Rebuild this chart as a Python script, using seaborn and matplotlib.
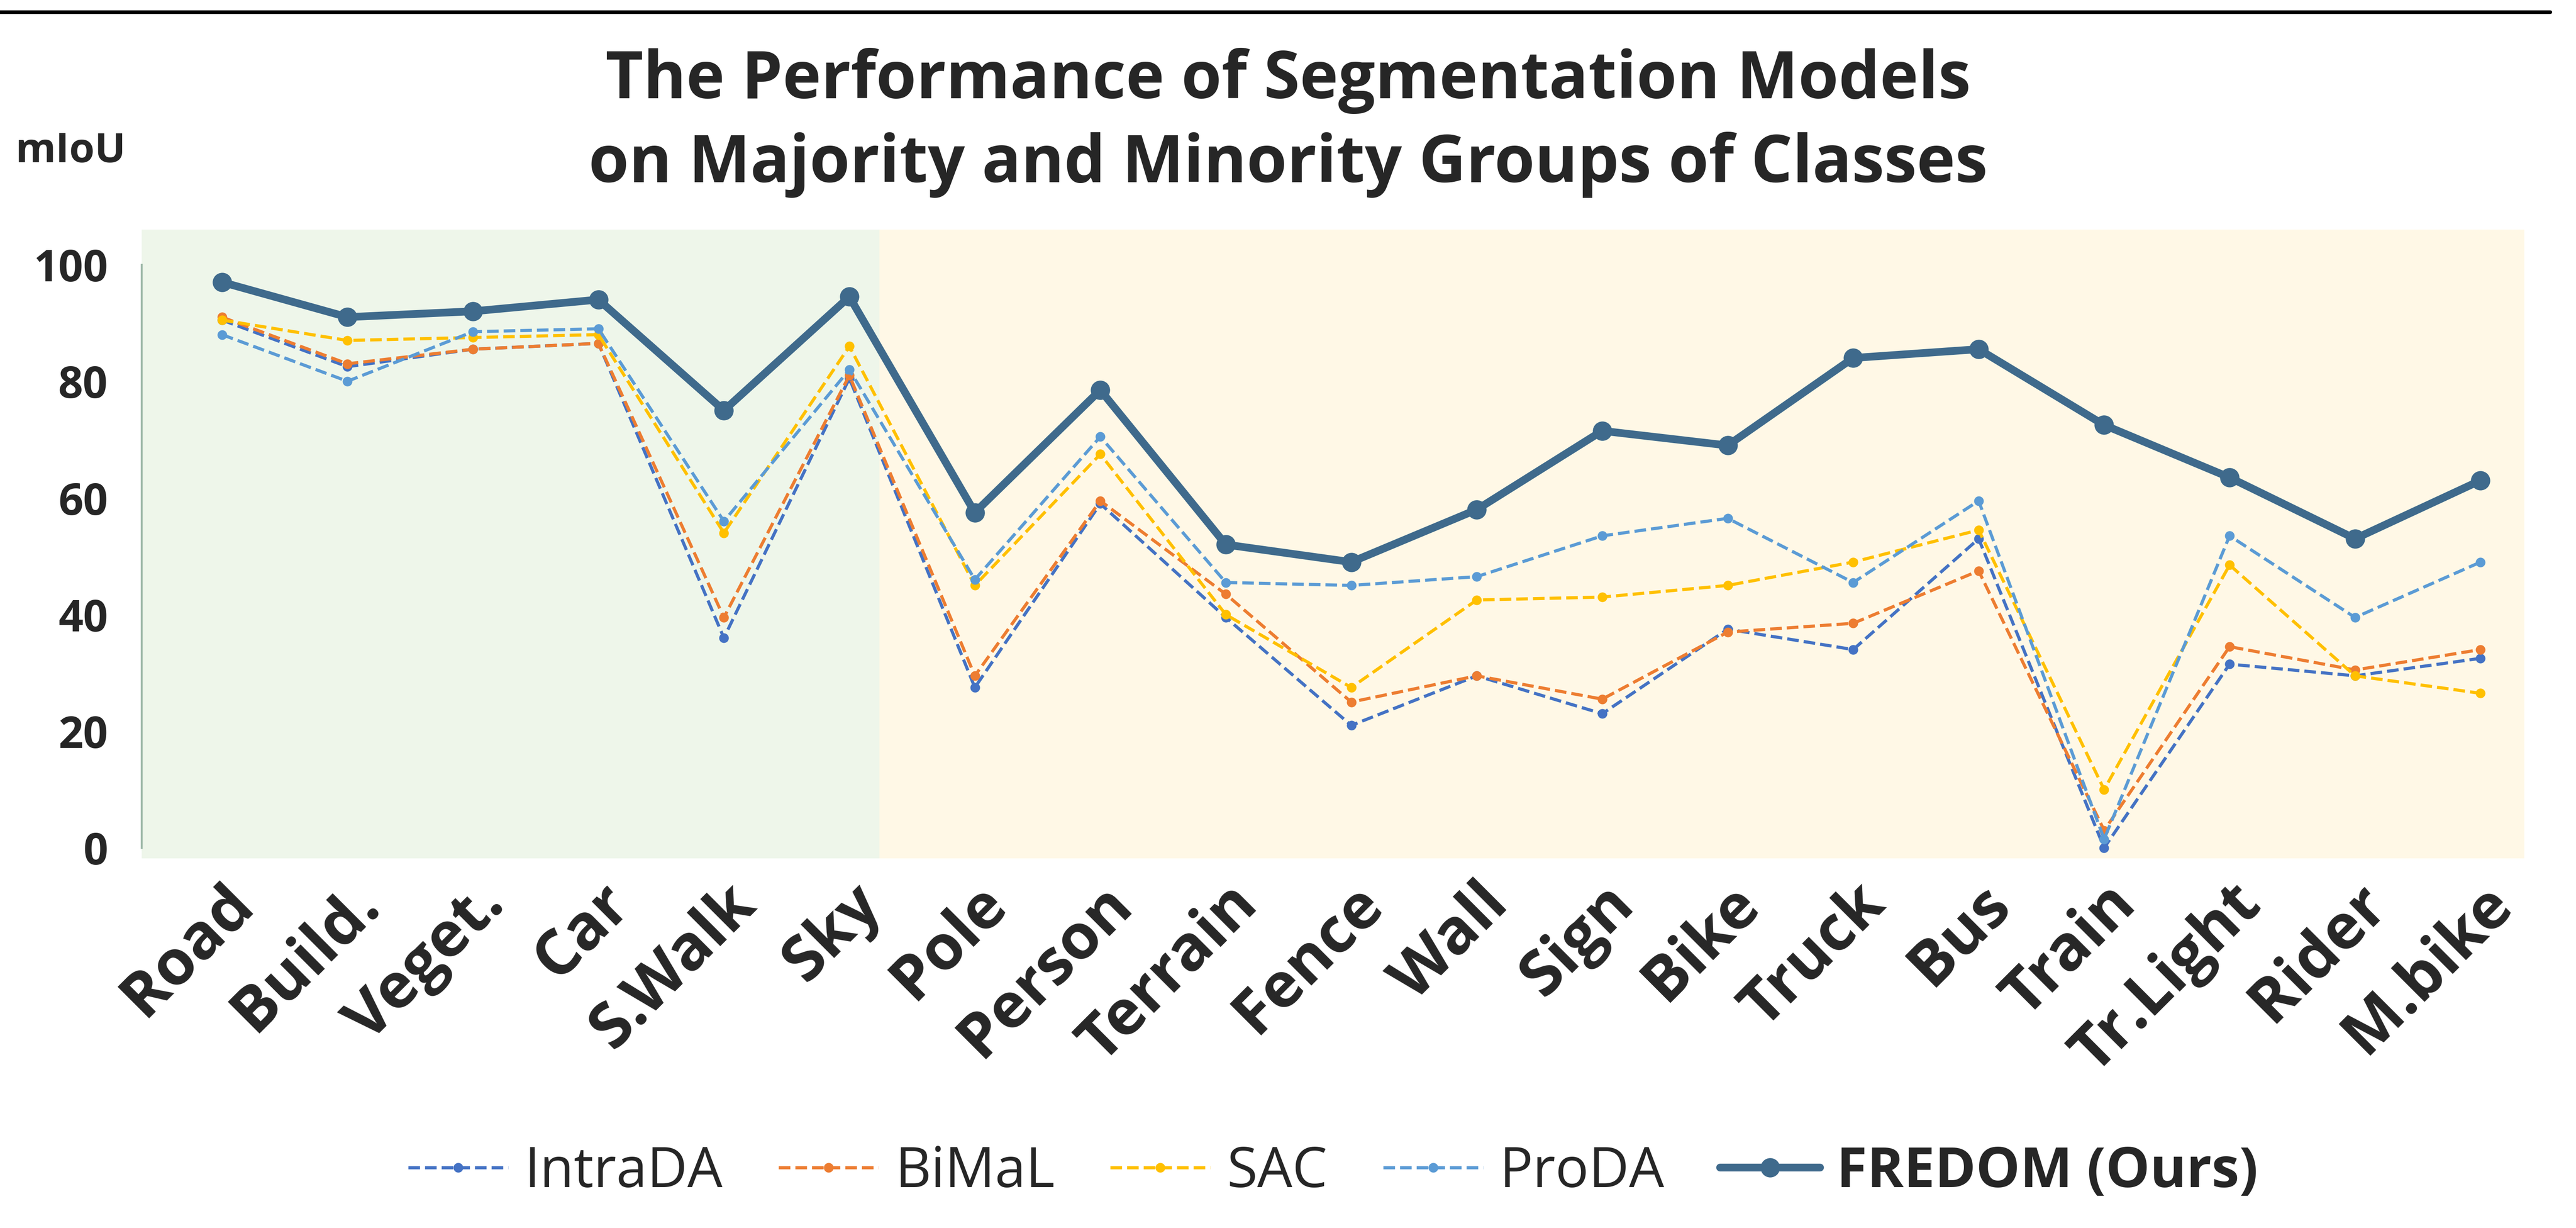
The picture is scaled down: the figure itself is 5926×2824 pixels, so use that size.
"""Segmentation model mIoU across majority/minority class groups."""

import matplotlib.pyplot as plt
import numpy as np
import pandas as pd
import seaborn as sns

CLASSES = ["Road", "Build.", "Veget.", "Car", "S.Walk", "Sky", "Pole", "Person",
           "Terrain", "Fence", "Wall", "Sign", "Bike", "Truck", "Bus", "Train",
           "Tr.Light", "Rider", "M.bike"]

INTRADA = [90.5, 82.5, 85.5, 86.5, 36, 80.5, 27.5, 59, 39.5, 21, 29.5, 23, 37.5, 34, 53, 0, 31.5, 29.5, 32.5]
BIMAL = [91, 83, 85.5, 86.5, 39.5, 81, 29.5, 59.5, 43.5, 25, 29.5, 25.5, 37, 38.5, 47.5, 3, 34.5, 30.5, 34]
SAC = [90.5, 87, 87.5, 88, 54, 86, 45, 67.5, 40, 27.5, 42.5, 43, 45, 49, 54.5, 10, 48.5, 29.5, 26.5]
PRODA = [88, 80, 88.5, 89, 56, 82, 46, 70.5, 45.5, 45, 46.5, 53.5, 56.5, 45.5, 59.5, 1.5, 53.5, 39.5, 49]
FREDOM = [97, 91, 92, 94, 75, 94.5, 57.5, 78.5, 52, 49, 58, 71.5, 69, 84, 85.5, 72.5, 63.5, 53, 63]

MODELS = ["IntraDA", "BiMaL", "SAC", "ProDA", "FREDOM (Ours)"]
COLORS = ["#4472C4", "#ED7D31", "#FFC000", "#5B9BD5", "#3F6A8C"]

sns.set_style("white")
plt.rcParams["font.family"] = ["Open Sans", "DejaVu Sans"]

rows = []
for name, vals in zip(MODELS, [INTRADA, BIMAL, SAC, PRODA, FREDOM]):
    for i, v in enumerate(vals):
        rows.append({"model": name, "x": i, "miou": v})
df = pd.DataFrame(rows)

fig = plt.figure(figsize=(14.815, 7.06))
ax = fig.add_axes([0.055, 0.301, 0.925, 0.512])

ax.axvspan(-0.64, 5.25, ymin=0, ymax=1, color="#EEF6EA", zorder=0)
ax.axvspan(5.25, 18.35, ymin=0, ymax=1, color="#FFF8E6", zorder=0)

for name, color in zip(MODELS, COLORS):
    sub = df[df["model"] == name]
    ours = name.startswith("FREDOM")
    sns.lineplot(data=sub, x="x", y="miou", ax=ax, color=color, label=name,
                 linestyle="-" if ours else "--",
                 linewidth=3.2 if ours else 1.3,
                 marker="o", markersize=8 if ours else 4,
                 markeredgewidth=0, zorder=5 if ours else 3)

ax.set_xlim(-0.64, 18.35)
ax.set_ylim(-1.8, 106)
ax.set_yticks([0, 20, 40, 60, 80, 100])
ax.set_xticks(range(len(CLASSES)))
ax.set_xticklabels(CLASSES, rotation=45, ha="right", rotation_mode="anchor",
                   fontsize=26, fontweight="bold")
ax.tick_params(axis="y", labelsize=18, length=0, pad=14)
for lbl in ax.get_yticklabels():
    lbl.set_fontweight("bold")
ax.tick_params(axis="x", length=0, pad=6)
ax.set_xlabel("")
ax.set_ylabel("")
for side in ["top", "right", "bottom"]:
    ax.spines[side].set_visible(False)
ax.spines["left"].set_bounds(0, 100)
ax.spines["left"].set_color("#9DB8A8")

fig.text(0.5, 0.90, "The Performance of Segmentation Models\non Majority and Minority Groups of Classes",
         ha="center", va="center", fontsize=27, fontweight="bold", linespacing=1.35)
fig.text(0.006, 0.868, "mIoU", fontsize=17, fontweight="bold")
fig.add_artist(plt.Line2D([0.0, 0.99], [0.99, 0.99], color="black", linewidth=1.5))

leg = ax.legend(loc="center", bbox_to_anchor=(0.5, -0.50), ncol=5,
                frameon=False, fontsize=23, handlelength=1.8, columnspacing=1.0,
                handletextpad=0.3)
leg.get_texts()[-1].set_fontweight("bold")

fig.savefig("out.png", dpi=400)
